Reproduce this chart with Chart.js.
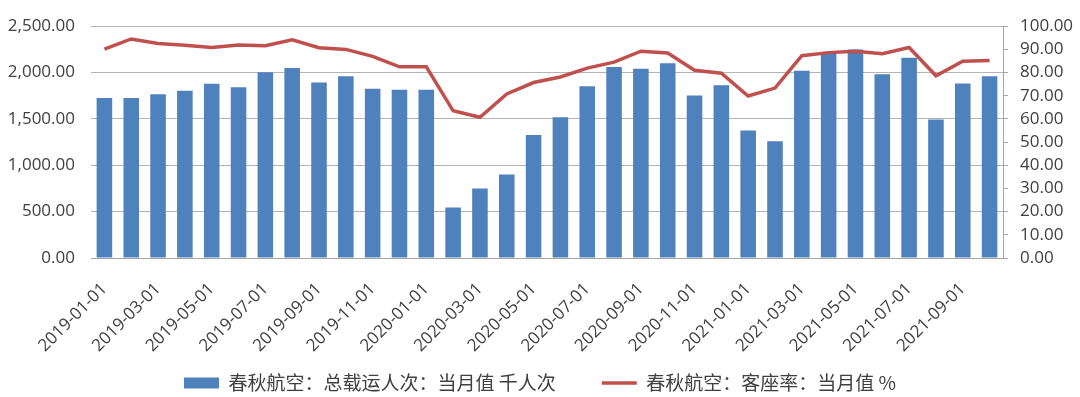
<!DOCTYPE html>
<html>
<head>
<meta charset="utf-8">
<script src="https://cdn.jsdelivr.net/npm/chart.js@4/dist/chart.umd.min.js"></script>
<style>
html,body{margin:0;padding:0;background:#fff;}
#wrap{width:1080px;height:397px;position:relative;}
</style>
</head>
<body>
<div id="wrap"><canvas id="c" width="1080" height="397"></canvas></div>
<script>
const categories = [
  "2019-01-01","2019-02-01","2019-03-01","2019-04-01","2019-05-01","2019-06-01",
  "2019-07-01","2019-08-01","2019-09-01","2019-10-01","2019-11-01","2019-12-01",
  "2020-01-01","2020-02-01","2020-03-01","2020-04-01","2020-05-01","2020-06-01",
  "2020-07-01","2020-08-01","2020-09-01","2020-10-01","2020-11-01","2020-12-01",
  "2021-01-01","2021-02-01","2021-03-01","2021-04-01","2021-05-01","2021-06-01",
  "2021-07-01","2021-08-01","2021-09-01","2021-10-01"
];
const passengers = [
  1725,1725,1765,1805,1880,1842,2002,2050,1893,1961,1825,1815,
  1815,545,750,900,1327,1518,1852,2060,2040,2101,1753,1862,
  1375,1259,2019,2215,2248,1982,2160,1494,1883,1961
];
const loadFactor = [
  90.1,94.5,92.5,91.8,90.8,91.9,91.6,94.1,90.7,90.0,87.0,82.5,
  82.5,63.5,60.7,70.8,75.7,78.1,81.9,84.5,89.2,88.4,81.0,79.7,
  69.9,73.3,87.3,88.6,89.2,88.1,90.8,78.6,84.9,85.2
];
const seriesNames = ["春秋航空：总载运人次：当月值 千人次", "春秋航空：客座率：当月值 %"];
const leftTicks = [0, 500, 1000, 1500, 2000, 2500];
const rightTicks = [0,10,20,30,40,50,60,70,80,90,100];

const fmt = v => Number(v).toLocaleString('en-US', {minimumFractionDigits: 2, maximumFractionDigits: 2});
const tickFont = {family: "'Open Sans', sans-serif", size: 17};
const LEG_PAD = 46;
const X_BOTTOM = 360;
const LEG_CENTER = 383;

const legendPlace = {
  id: 'legendPlace',
  afterInit(chart) {
    const lg = chart.legend;
    if (!lg) return;
    const orig = lg.fit.bind(lg);
    lg.fit = function () { orig(); this.height = 397 - X_BOTTOM; };
  },
  afterLayout(chart) {
    const lg = chart.legend;
    if (!lg) return;
    const fs = 19;
    const top = LEG_CENTER - LEG_PAD - fs / 2;
    const h = lg.bottom - top;
    lg.top = top; lg.height = h;
  }
};

new Chart(document.getElementById('c'), {
  type: 'bar',
  data: {
    labels: categories,
    datasets: [
      {
        type: 'bar', label: seriesNames[0], data: passengers, yAxisID: 'y',
        backgroundColor: '#4F81BD', borderWidth: 0, order: 1,
        barPercentage: 0.58, categoryPercentage: 1.0, pointStyle: 'rect'
      },
      {
        type: 'line', label: seriesNames[1], data: loadFactor, yAxisID: 'y1',
        borderColor: '#C0504D', backgroundColor: '#C0504D', borderWidth: 3.5,
        pointRadius: 0, tension: 0, order: 0, pointStyle: 'line'
      }
    ]
  },
  options: {
    responsive: false, animation: false, devicePixelRatio: 1,
    layout: {padding: {top: 15, left: 0, right: 0, bottom: 0}},
    plugins: {
      tooltip: {enabled: false},
      legend: {
        position: 'bottom',
        labels: {
          usePointStyle: true, pointStyleWidth: 35, boxHeight: 11,
          padding: LEG_PAD, color: '#404040',
          font: {family: "'Noto Sans CJK SC', sans-serif", size: 19},
          sort: (a, b) => a.datasetIndex - b.datasetIndex
        }
      }
    },
    scales: {
      x: {
        grid: {display: false},
        border: {display: true, color: '#A6A6A6', width: 1},
        ticks: {
          autoSkip: false, maxRotation: 45, minRotation: 45, padding: 13,
          color: '#404040', font: tickFont,
          callback: function (v, i) { return i % 2 === 0 ? categories[i] : ''; }
        },
        afterFit: s => { s.height = X_BOTTOM - 258; }
      },
      y: {
        position: 'left', min: 0, max: 2500,
        afterBuildTicks: s => { s.ticks = leftTicks.map(v => ({value: v})); },
        grid: {color: '#B4B4B4', drawTicks: false, lineWidth: 1},
        border: {display: false},
        ticks: {autoSkip: false, padding: 16, color: '#404040', font: tickFont, callback: v => fmt(v)},
        afterFit: s => { s.width = 91; }
      },
      y1: {
        position: 'right', min: 0, max: 100,
        afterBuildTicks: s => { s.ticks = rightTicks.map(v => ({value: v})); },
        grid: {drawOnChartArea: false, drawTicks: true, tickLength: 5, color: '#A6A6A6'},
        border: {display: true, color: '#A6A6A6', width: 1},
        ticks: {autoSkip: false, padding: 12, color: '#404040', font: tickFont, callback: v => fmt(v)},
        afterFit: s => { s.width = 1080 - 1003; }
      }
    }
  },
  plugins: [legendPlace]
});
</script>
</body>
</html>
